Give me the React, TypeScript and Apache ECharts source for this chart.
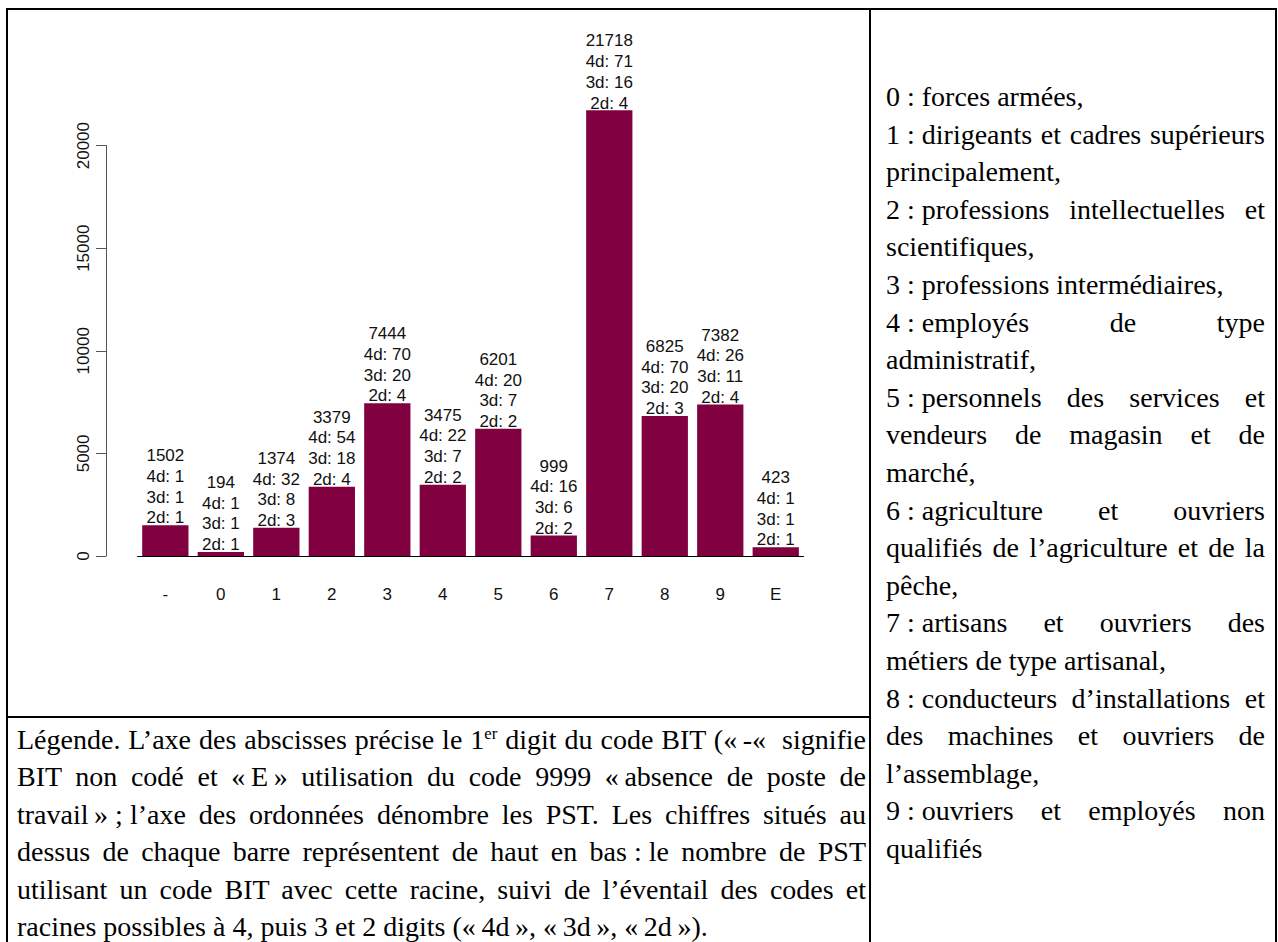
import React, { useEffect, useRef } from "react";
import * as echarts from "echarts";

const categories = ["-", "0", "1", "2", "3", "4", "5", "6", "7", "8", "9", "E"];
const counts = [1502, 194, 1374, 3379, 7444, 3475, 6201, 999, 21718, 6825, 7382, 423];
const d4 = [1, 1, 32, 54, 70, 22, 20, 16, 71, 70, 26, 1];
const d3 = [1, 1, 8, 18, 20, 7, 7, 6, 16, 20, 11, 1];
const d2 = [1, 1, 3, 4, 4, 2, 2, 2, 4, 3, 4, 1];

type Line = { t: React.ReactNode; j: boolean };

const S = "\u2005"; // fixed (non-stretching) space around colons
const N = "\u202F";

const legendLines: Line[] = [
  { t: <>Légende. L’axe des abscisses précise le 1<sup style={{ fontSize: "0.6em", lineHeight: 0 }}>er</sup> digit du code BIT («{N}-«&nbsp; signifie</>, j: true },
  { t: `BIT non codé et «${N}E${N}» utilisation du code 9999 «${N}absence de poste de`, j: true },
  { t: `travail${N}»${S};${S}l’axe des ordonnées dénombre les PST. Les chiffres situés au`, j: true },
  { t: `dessus de chaque barre représentent de haut en bas${S}:${S}le nombre de PST`, j: true },
  { t: "utilisant un code BIT avec cette racine, suivi de l’éventail des codes et", j: true },
  { t: `racines possibles à 4, puis 3 et 2 digits («${N}4d${N}», «${N}3d${N}», «${N}2d${N}»).`, j: false },
];

const codeLines: Line[] = [
  { t: `0${S}:${S}forces armées,`, j: false },
  { t: `1${S}:${S}dirigeants et cadres supérieurs`, j: true },
  { t: "principalement,", j: false },
  { t: `2${S}:${S}professions intellectuelles et`, j: true },
  { t: "scientifiques,", j: false },
  { t: `3${S}:${S}professions intermédiaires,`, j: false },
  { t: `4${S}:${S}employés de type`, j: true },
  { t: "administratif,", j: false },
  { t: `5${S}:${S}personnels des services et`, j: true },
  { t: "vendeurs de magasin et de", j: true },
  { t: "marché,", j: false },
  { t: `6${S}:${S}agriculture et ouvriers`, j: true },
  { t: "qualifiés de l’agriculture et de la", j: true },
  { t: "pêche,", j: false },
  { t: `7${S}:${S}artisans et ouvriers des`, j: true },
  { t: "métiers de type artisanal,", j: false },
  { t: `8${S}:${S}conducteurs d’installations et`, j: true },
  { t: "des machines et ouvriers de", j: true },
  { t: "l’assemblage,", j: false },
  { t: `9${S}:${S}ouvriers et employés non`, j: true },
  { t: "qualifiés", j: false },
];

const SERIF = "'Liberation Serif', 'Times New Roman', serif";
const SANS = "'Liberation Sans', Arial, Helvetica, sans-serif";
const LH = 37.6;

function TextBlock({ lines, left, top, width }: { lines: Line[]; left: number; top: number; width: number }) {
  return (
    <div style={{ position: "absolute", left, top, width, fontFamily: SERIF, fontSize: 28, color: "#000" }}>
      {lines.map((l, i) => (
        <div
          key={i}
          style={{
            height: LH,
            lineHeight: LH + "px",
            whiteSpace: "nowrap",
            textAlign: l.j ? "justify" : "left",
            textAlignLast: l.j ? "justify" : "left",
          } as React.CSSProperties}
        >
          {l.t}
        </div>
      ))}
    </div>
  );
}

function Chart() {
  const ref = useRef<HTMLDivElement>(null);
  useEffect(() => {
    if (!ref.current) return;
    const chart = echarts.init(ref.current, undefined, { renderer: "svg" });
    chart.setOption({
      animation: false,
      backgroundColor: "transparent",
      grid: { left: 137.6, right: 65.5, top: 145.6, bottom: 160, containLabel: false },
      xAxis: {
        type: "category",
        data: categories,
        axisLine: { show: true, lineStyle: { color: "#000", width: 1 } },
        axisTick: { show: false },
        axisLabel: { margin: 30, fontSize: 17, color: "#111", fontFamily: SANS },
        splitLine: { show: false },
      },
      yAxis: {
        type: "value",
        min: 0,
        max: 20000,
        interval: 5000,
        offset: 31.6,
        axisLine: { show: true, lineStyle: { color: "#555", width: 1 } },
        axisTick: { show: true, length: 10, lineStyle: { color: "#555" } },
        splitLine: { show: false },
        axisLabel: {
          rotate: 90,
          margin: 14,
          fontSize: 17,
          color: "#111",
          fontFamily: SANS,
          formatter: (v: number) => String(v),
        },
      },
      series: [
        {
          type: "bar",
          data: counts,
          barWidth: "83.4%",
          clip: false,
          itemStyle: { color: "#800040" },
          label: {
            show: true,
            position: "top",
            distance: -3,
            fontSize: 17,
            lineHeight: 20.7,
            color: "#111",
            fontFamily: SANS,
            formatter: (p: any) =>
              `${counts[p.dataIndex]}\n4d: ${d4[p.dataIndex]}\n3d: ${d3[p.dataIndex]}\n2d: ${d2[p.dataIndex]}`,
          },
        },
      ],
    });
    return () => chart.dispose();
  }, []);
  return <div ref={ref} style={{ position: "absolute", left: 0, top: 0, width: 869, height: 716 }} />;
}

const bar = (left: number, top: number, width: number, height: number) => (
  <div style={{ position: "absolute", left, top, width, height, background: "#000", zIndex: 5 }} />
);

export default function App() {
  return (
    <div style={{ position: "absolute", left: 0, top: 0, width: 1278, height: 942, background: "#fff", overflow: "hidden" }}>
      <Chart />
      {bar(6, 8, 1271, 2)}
      {bar(6, 8, 2, 934)}
      {bar(1275, 8, 2, 934)}
      {bar(869, 8, 2, 934)}
      {bar(6, 716, 865, 2)}
      <TextBlock lines={legendLines} left={17} top={720.5} width={849} />
      <TextBlock lines={codeLines} left={886} top={78} width={379} />
    </div>
  );
}
